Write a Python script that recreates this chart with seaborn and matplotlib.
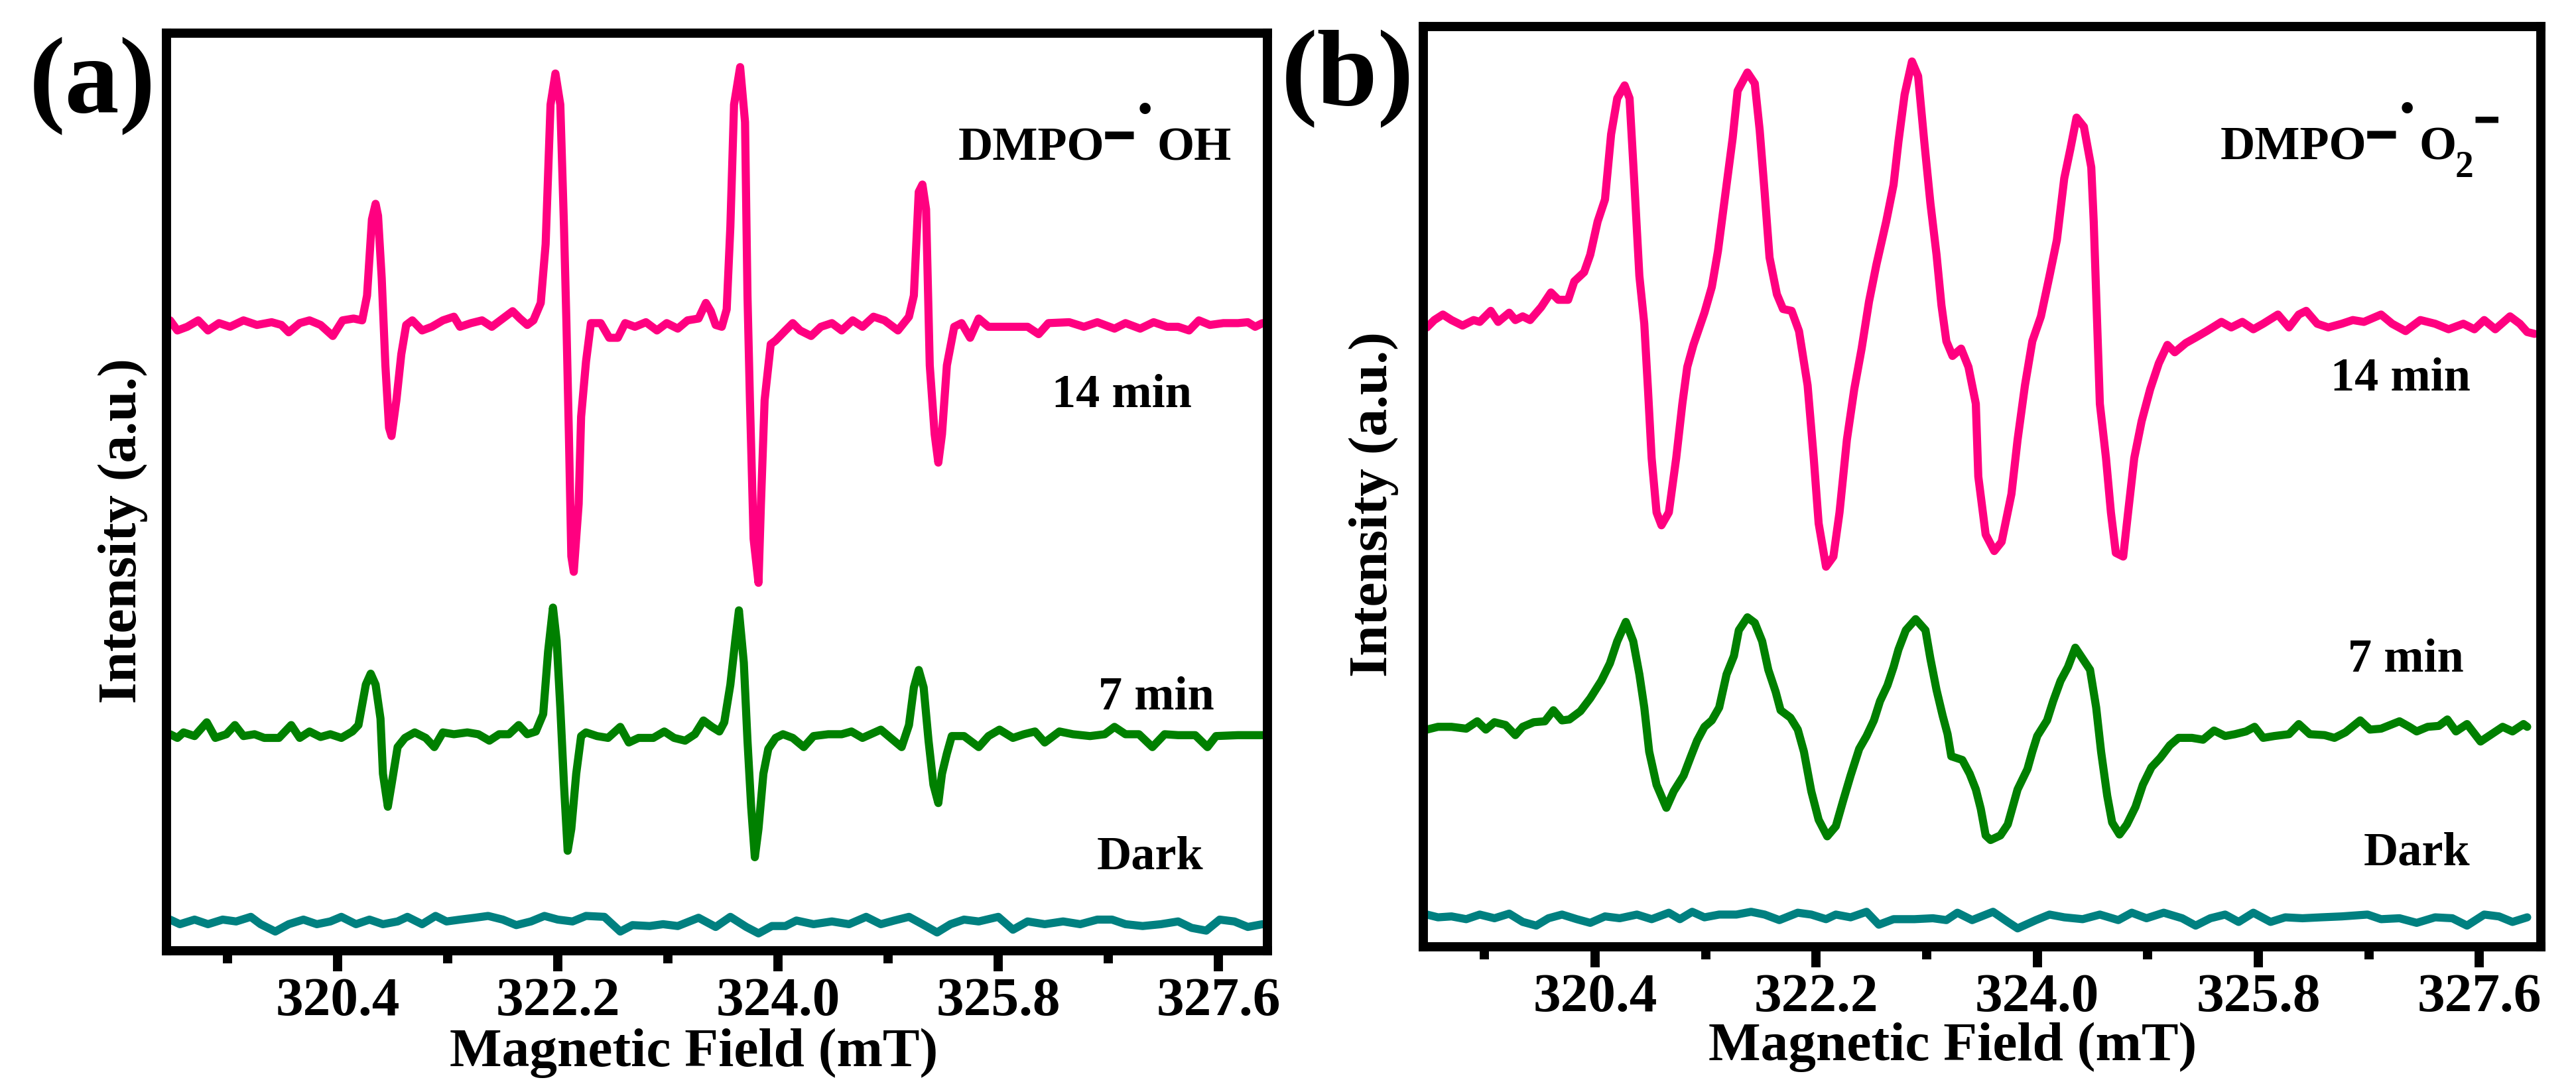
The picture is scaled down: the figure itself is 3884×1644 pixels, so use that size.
import matplotlib
matplotlib.use("Agg")
import matplotlib.pyplot as plt
import numpy as np
import pandas as pd
import seaborn as sns

# ---------------- data ----------------
series_names = ["14 min", "7 min", "Dark"]
series_colors = ["#FF0080", "#008000", "#008080"]

major_ticks = [320.4, 322.2, 324.0, 325.8, 327.6]
major_tick_labels = ["320.4", "322.2", "324.0", "325.8", "327.6"]
minor_ticks = [319.5, 321.3, 323.1, 324.9, 326.7]

# ---- panel (a): DMPO-OH ----
field_a_14 = [319.03, 319.09, 319.17, 319.26, 319.34, 319.43, 319.52, 319.63, 319.74, 319.86,
              319.94, 320.00, 320.09, 320.17, 320.26, 320.36, 320.44, 320.53, 320.60, 320.64,
              320.68, 320.71, 320.73, 320.76, 320.79, 320.82, 320.84, 320.88, 320.92, 320.96,
              321.01, 321.09, 321.17, 321.26, 321.35, 321.40, 321.49, 321.58, 321.66, 321.75,
              321.83, 321.89, 321.95, 322.00, 322.06, 322.10, 322.14, 322.18, 322.22, 322.25,
              322.27, 322.29, 322.31, 322.33, 322.37, 322.39, 322.43, 322.47, 322.55, 322.62,
              322.69, 322.75, 322.83, 322.92, 323.01, 323.09, 323.18, 323.26, 323.35, 323.41,
              323.45, 323.49, 323.54, 323.58, 323.61, 323.64, 323.69, 323.73, 323.75, 323.77,
              323.80, 323.84, 323.86, 323.89, 323.94, 323.98, 324.06, 324.12, 324.18, 324.27,
              324.35, 324.44, 324.52, 324.61, 324.69, 324.78, 324.87, 324.98, 325.07, 325.11,
              325.15, 325.18, 325.21, 325.24, 325.28, 325.31, 325.34, 325.38, 325.44, 325.50,
              325.57, 325.64, 325.72, 325.87, 326.04, 326.13, 326.21, 326.38, 326.50, 326.61,
              326.75, 326.84, 326.96, 327.07, 327.18, 327.27, 327.36, 327.44, 327.53, 327.64,
              327.76, 327.84, 327.90, 327.96]
int_a_14 = [68.7, 67.6, 68.0, 68.7, 67.6, 68.4, 68.0, 68.7, 68.2, 68.5,
            68.2, 67.4, 68.4, 68.7, 68.2, 67.0, 68.7, 68.9, 68.7, 71.4,
            79.7, 81.4, 80.1, 73.3, 63.8, 57.0, 56.1, 60.0, 65.0, 68.2,
            68.7, 67.6, 68.0, 68.7, 69.1, 68.0, 68.4, 68.7, 68.0, 68.9,
            69.7, 68.9, 68.2, 68.7, 70.6, 77.0, 92.2, 95.6, 92.2, 78.9,
            68.4, 56.3, 43.0, 41.3, 48.7, 58.2, 64.2, 68.4, 68.4, 66.8,
            66.8, 68.4, 68.0, 68.5, 67.6, 68.4, 67.8, 68.7, 68.9, 70.6,
            69.7, 68.2, 68.0, 69.9, 78.9, 92.2, 96.3, 90.3, 71.4, 60.0,
            44.9, 40.1, 48.7, 60.0, 66.1, 66.5, 67.6, 68.4, 67.6, 67.0,
            68.0, 68.4, 67.6, 68.7, 68.0, 69.1, 68.7, 67.6, 69.1, 71.4,
            82.7, 83.5, 80.8, 63.8, 56.3, 53.2, 56.3, 63.8, 68.0, 68.4,
            66.8, 68.9, 68.0, 68.0, 68.0, 67.2, 68.4, 68.5, 68.0, 68.5,
            67.8, 68.4, 67.8, 68.5, 68.0, 68.0, 67.6, 68.7, 68.2, 68.4,
            68.4, 68.5, 68.0, 68.4]

field_a_7 = [319.03, 319.09, 319.14, 319.23, 319.33, 319.40, 319.49, 319.56, 319.63, 319.72,
             319.80, 319.92, 320.02, 320.09, 320.17, 320.26, 320.34, 320.43, 320.52, 320.57,
             320.63, 320.67, 320.71, 320.75, 320.77, 320.81, 320.84, 320.89, 320.95, 321.03,
             321.12, 321.19, 321.26, 321.35, 321.46, 321.55, 321.64, 321.72, 321.80, 321.88,
             321.95, 322.02, 322.08, 322.12, 322.16, 322.19, 322.22, 322.25, 322.28, 322.31,
             322.35, 322.39, 322.43, 322.52, 322.61, 322.71, 322.78, 322.86, 322.98, 323.07,
             323.15, 323.24, 323.32, 323.39, 323.46, 323.52, 323.56, 323.61, 323.65, 323.68,
             323.72, 323.75, 323.78, 323.81, 323.84, 323.88, 323.92, 323.98, 324.04, 324.12,
             324.21, 324.29, 324.41, 324.52, 324.60, 324.69, 324.84, 324.92, 325.01, 325.07,
             325.11, 325.15, 325.19, 325.23, 325.27, 325.31, 325.34, 325.38, 325.42, 325.52,
             325.64, 325.72, 325.81, 325.92, 326.01, 326.10, 326.18, 326.30, 326.41, 326.55,
             326.67, 326.75, 326.84, 326.95, 327.06, 327.16, 327.27, 327.41, 327.51, 327.58,
             327.76, 327.96]
int_a_7 = [23.6, 23.2, 23.8, 23.4, 24.9, 23.2, 23.6, 24.6, 23.4, 23.6,
           23.2, 23.2, 24.6, 23.2, 23.9, 23.3, 23.6, 23.2, 23.9, 24.6,
           29.0, 30.2, 29.0, 25.3, 19.3, 15.7, 18.1, 22.2, 23.2, 23.8,
           23.2, 22.2, 23.8, 23.6, 23.8, 23.6, 22.9, 23.6, 23.6, 24.6,
           23.6, 23.9, 25.8, 32.6, 37.4, 33.8, 26.5, 18.1, 10.9, 13.3,
           19.3, 23.4, 23.8, 23.4, 23.2, 24.4, 22.7, 23.2, 23.2, 23.9,
           23.2, 22.9, 23.6, 25.1, 24.4, 23.9, 24.9, 29.0, 33.8, 37.1,
           31.4, 22.9, 15.7, 10.2, 13.3, 19.3, 22.0, 23.2, 23.6, 23.2,
           22.2, 23.4, 23.6, 23.6, 23.9, 23.2, 24.1, 23.2, 22.2, 24.6,
           28.7, 30.6, 28.7, 22.9, 18.1, 16.1, 19.3, 21.5, 23.4, 23.4,
           22.2, 23.4, 24.1, 23.2, 23.6, 23.9, 22.7, 23.9, 23.6, 23.4,
           23.6, 24.4, 23.6, 23.6, 22.2, 23.6, 23.5, 23.5, 22.2, 23.4,
           23.5, 23.5]

field_a_dark = [319.03, 319.11, 319.23, 319.34, 319.46, 319.57, 319.69, 319.77, 319.89, 320.00,
                320.12, 320.23, 320.34, 320.43, 320.55, 320.66, 320.77, 320.89, 320.97, 321.09,
                321.20, 321.29, 321.40, 321.52, 321.63, 321.75, 321.86, 321.98, 322.09, 322.20,
                322.32, 322.43, 322.58, 322.71, 322.81, 322.95, 323.06, 323.18, 323.35, 323.49,
                323.61, 323.74, 323.84, 323.95, 324.06, 324.15, 324.29, 324.44, 324.58, 324.72,
                324.84, 324.95, 325.07, 325.18, 325.30, 325.41, 325.52, 325.64, 325.80, 325.92,
                326.04, 326.18, 326.33, 326.47, 326.61, 326.73, 326.84, 326.98, 327.13, 327.27,
                327.38, 327.50, 327.61, 327.73, 327.84, 327.96]
int_a_dark = [3.4, 2.9, 3.4, 2.9, 3.4, 3.2, 3.7, 2.9, 2.1, 2.9,
              3.4, 2.9, 3.2, 3.7, 2.9, 3.4, 2.9, 3.2, 3.7, 2.9,
              3.8, 3.2, 3.4, 3.6, 3.8, 3.4, 2.8, 3.2, 3.8, 3.4,
              3.2, 3.8, 3.7, 2.1, 2.8, 2.7, 2.9, 2.7, 3.6, 2.6,
              3.7, 2.6, 1.9, 2.7, 2.7, 3.3, 2.9, 3.2, 2.9, 3.7,
              2.9, 3.3, 3.7, 2.9, 2.0, 2.9, 3.4, 3.2, 3.7, 2.3,
              3.2, 2.9, 3.2, 2.9, 3.4, 3.4, 2.9, 2.7, 2.9, 3.2,
              2.5, 2.2, 3.4, 3.2, 2.6, 2.9]

# ---- panel (b): DMPO-O2- ----
field_b_14 = [319.03, 319.09, 319.16, 319.23, 319.32, 319.41, 319.46, 319.55, 319.61, 319.70,
              319.75, 319.81, 319.87, 319.96, 320.04, 320.10, 320.18, 320.23, 320.31, 320.36,
              320.42, 320.48, 320.53, 320.58, 320.64, 320.68, 320.72, 320.76, 320.80, 320.83,
              320.86, 320.90, 320.94, 321.00, 321.06, 321.11, 321.15, 321.20, 321.29, 321.35,
              321.40, 321.47, 321.52, 321.56, 321.64, 321.70, 321.74, 321.78, 321.82, 321.88,
              321.93, 322.00, 322.06, 322.13, 322.18, 322.22, 322.28, 322.34, 322.39, 322.45,
              322.51, 322.57, 322.63, 322.69, 322.77, 322.83, 322.87, 322.92, 322.98, 323.03,
              323.08, 323.13, 323.18, 323.22, 323.26, 323.31, 323.38, 323.44, 323.50, 323.52,
              323.58, 323.65, 323.71, 323.79, 323.84, 323.90, 323.96, 324.03, 324.10, 324.16,
              324.22, 324.27, 324.32, 324.38, 324.44, 324.46, 324.48, 324.51, 324.56, 324.60,
              324.64, 324.70, 324.74, 324.79, 324.85, 324.92, 324.99, 325.06, 325.12, 325.21,
              325.29, 325.38, 325.50, 325.58, 325.67, 325.76, 325.84, 325.96, 326.05, 326.13,
              326.19, 326.28, 326.37, 326.48, 326.57, 326.66, 326.80, 326.89, 327.00, 327.12,
              327.24, 327.35, 327.47, 327.56, 327.64, 327.73, 327.85, 327.93, 327.99, 328.05]
int_b_14 = [67.3, 68.1, 68.7, 68.1, 67.5, 68.1, 67.9, 69.1, 67.9, 68.9,
            68.1, 68.5, 68.1, 69.5, 71.1, 70.3, 70.3, 72.3, 73.3, 75.2,
            78.8, 81.2, 88.3, 92.2, 93.6, 92.2, 82.8, 72.9, 67.7, 60.6,
            53.1, 47.2, 45.8, 47.2, 53.1, 59.0, 63.0, 65.4, 68.9, 71.7,
            75.6, 82.8, 87.9, 93.0, 95.0, 93.8, 88.7, 82.0, 74.9, 70.9,
            69.3, 69.1, 66.9, 61.0, 53.1, 46.0, 41.3, 42.4, 47.2, 55.1,
            60.6, 65.0, 70.1, 74.1, 78.8, 82.8, 87.5, 92.6, 96.2, 94.6,
            87.5, 80.8, 75.2, 69.7, 65.8, 64.2, 65.0, 63.0, 59.0, 51.1,
            44.8, 43.0, 44.0, 49.2, 55.1, 61.0, 65.8, 68.5, 72.9, 76.8,
            83.5, 86.7, 90.1, 89.1, 84.7, 78.8, 70.9, 59.0, 53.1, 47.2,
            42.8, 42.4, 47.2, 53.1, 57.1, 60.6, 63.4, 65.4, 64.6, 65.6,
            66.2, 66.9, 67.9, 67.3, 67.9, 67.1, 67.7, 68.7, 67.3, 68.7,
            69.1, 67.7, 67.3, 67.7, 68.1, 67.9, 68.7, 67.7, 66.9, 68.1,
            67.7, 67.1, 67.7, 67.1, 68.1, 67.1, 68.5, 67.7, 66.8, 66.6]

field_b_7 = [319.03, 319.12, 319.23, 319.35, 319.44, 319.51, 319.58, 319.67, 319.75, 319.81,
             319.90, 319.99, 320.06, 320.13, 320.19, 320.28, 320.36, 320.45, 320.52, 320.58,
             320.65, 320.71, 320.76, 320.80, 320.84, 320.90, 320.98, 321.04, 321.12, 321.18,
             321.23, 321.29, 321.35, 321.41, 321.47, 321.53, 321.57, 321.64, 321.70, 321.76,
             321.81, 321.87, 321.91, 321.99, 322.05, 322.10, 322.16, 322.22, 322.29, 322.36,
             322.42, 322.48, 322.55, 322.61, 322.67, 322.72, 322.78, 322.83, 322.87, 322.93,
             323.01, 323.09, 323.13, 323.18, 323.23, 323.27, 323.30, 323.39, 323.45, 323.50,
             323.54, 323.58, 323.62, 323.70, 323.76, 323.80, 323.84, 323.92, 323.96, 324.00,
             324.08, 324.13, 324.19, 324.25, 324.31, 324.37, 324.43, 324.48, 324.52, 324.57,
             324.61, 324.67, 324.73, 324.80, 324.86, 324.93, 325.00, 325.08, 325.15, 325.26,
             325.35, 325.44, 325.53, 325.61, 325.70, 325.77, 325.84, 325.93, 326.05, 326.13,
             326.22, 326.34, 326.42, 326.51, 326.63, 326.71, 326.80, 326.95, 327.03, 327.09,
             327.18, 327.27, 327.34, 327.41, 327.50, 327.61, 327.70, 327.79, 327.87, 327.96,
             327.99]
int_b_7 = [23.6, 23.9, 23.9, 23.7, 24.5, 23.6, 24.4, 24.1, 23.0, 23.9,
           24.4, 24.5, 25.7, 24.6, 24.7, 25.6, 27.0, 28.9, 30.8, 33.2,
           35.3, 33.2, 29.6, 26.0, 21.2, 17.6, 15.1, 16.9, 18.6, 20.7,
           22.4, 23.9, 24.6, 26.0, 29.6, 31.6, 34.4, 35.8, 35.2, 33.2,
           30.1, 27.7, 25.7, 24.9, 23.6, 21.2, 16.9, 13.8, 12.0, 13.1,
           15.9, 18.6, 21.5, 22.9, 24.6, 26.7, 28.4, 30.4, 32.3, 34.4,
           35.6, 34.4, 31.3, 27.9, 25.1, 23.1, 20.7, 20.3, 18.8, 17.1,
           15.0, 12.1, 11.6, 12.1, 13.3, 15.2, 17.1, 19.3, 21.2, 22.9,
           24.6, 26.7, 28.9, 30.4, 32.5, 31.3, 30.1, 26.0, 21.2, 16.4,
           13.5, 12.2, 13.3, 15.2, 17.6, 19.5, 20.5, 21.9, 22.7, 22.7,
           22.5, 23.5, 22.9, 23.1, 23.4, 23.9, 22.7, 22.9, 23.1, 24.2,
           23.1, 23.0, 22.7, 23.3, 24.6, 23.6, 23.7, 24.5, 23.9, 23.4,
           23.9, 24.0, 24.7, 23.4, 24.2, 22.3, 23.1, 23.9, 23.4, 24.2,
           23.9]

field_b_dark = [319.03, 319.12, 319.23, 319.35, 319.46, 319.58, 319.70, 319.81, 319.92, 320.02,
                320.13, 320.25, 320.36, 320.48, 320.60, 320.74, 320.86, 321.00, 321.09, 321.19,
                321.29, 321.41, 321.55, 321.67, 321.78, 321.90, 322.05, 322.16, 322.28, 322.36,
                322.48, 322.61, 322.71, 322.83, 323.00, 323.15, 323.26, 323.35, 323.47, 323.64,
                323.76, 323.84, 323.99, 324.10, 324.22, 324.37, 324.51, 324.66, 324.77, 324.89,
                325.03, 325.18, 325.29, 325.41, 325.53, 325.64, 325.76, 325.90, 326.02, 326.16,
                326.31, 326.48, 326.69, 326.80, 326.95, 327.09, 327.24, 327.38, 327.50, 327.64,
                327.76, 327.87, 327.99]
int_b_dark = [3.5, 3.2, 3.3, 3.0, 3.5, 3.1, 3.6, 2.7, 2.3, 3.1,
              3.5, 3.0, 2.6, 3.3, 3.1, 3.5, 3.0, 3.7, 3.0, 3.8,
              3.2, 3.5, 3.5, 3.8, 3.5, 2.9, 3.7, 3.5, 3.0, 3.5,
              3.2, 3.8, 2.4, 3.0, 3.0, 3.1, 2.9, 3.7, 2.9, 3.8,
              2.7, 2.0, 2.9, 3.5, 3.2, 3.0, 3.5, 2.9, 3.7, 3.1,
              3.7, 3.1, 2.3, 3.1, 3.5, 2.7, 3.7, 2.7, 3.2, 3.1,
              3.2, 3.3, 3.5, 3.0, 3.1, 2.6, 3.2, 3.1, 2.3, 3.5,
              3.3, 2.7, 3.2]


def long_frame(fields, intensities):
    parts = []
    for name, f, v in zip(series_names, fields, intensities):
        parts.append(pd.DataFrame({"field": f, "intensity": v, "series": name}))
    return pd.concat(parts, ignore_index=True)


df_a = long_frame([field_a_14, field_a_7, field_a_dark], [int_a_14, int_a_7, int_a_dark])
df_b = long_frame([field_b_14, field_b_7, field_b_dark], [int_b_14, int_b_7, int_b_dark])

# ---------------- styling ----------------
sns.set_theme(style="white")
plt.rcParams["font.family"] = ["Liberation Serif", "DejaVu Sans"]
plt.rcParams["font.weight"] = "bold"
plt.rcParams["axes.labelweight"] = "bold"
plt.rcParams["text.color"] = "black"
plt.rcParams["axes.labelcolor"] = "black"
plt.rcParams["xtick.color"] = "black"
plt.rcParams["ytick.color"] = "black"
plt.rcParams["axes.edgecolor"] = "black"

DPI = 100
fig = plt.figure(figsize=(38.84, 16.44), dpi=DPI)
fig.patch.set_facecolor("white")
ax_a = fig.add_axes([0.0646, 0.1277, 0.4274, 0.8419])
ax_b = fig.add_axes([0.5525, 0.1314, 0.4338, 0.8443])

palette = dict(zip(series_names, series_colors))

for ax, df in ((ax_a, df_a), (ax_b, df_b)):
    sns.lineplot(data=df, x="field", y="intensity", hue="series", palette=palette,
                 estimator=None, sort=False, linewidth=8.8, legend=False, ax=ax,
                 solid_joinstyle="round", solid_capstyle="round")


def style_axes(ax, xlim, xlab_coords, ylab_coords):
    ax.set_xlim(*xlim)
    ax.set_ylim(0, 100)
    ax.set_xticks(major_ticks)
    ax.set_xticklabels(major_tick_labels, fontsize=60, fontweight="bold", color="black")
    ax.set_xticks(minor_ticks, minor=True)
    ax.set_yticks([])
    ax.tick_params(axis="x", which="major", direction="out", length=22, width=10,
                   pad=7, bottom=True, color="black", labelcolor="black")
    ax.tick_params(axis="x", which="minor", direction="out", length=14, width=10,
                   bottom=True, color="black")
    ax.grid(False)
    ax.set_facecolor("white")
    for s in ax.spines.values():
        s.set_visible(True)
        s.set_linewidth(10)
        s.set_color("black")
    ax.set_xlabel("Magnetic Field (mT)", fontsize=60, fontweight="bold", color="black")
    ax.xaxis.set_label_coords(*xlab_coords)
    ax.xaxis.label.set_va("baseline")
    ax.set_ylabel("Intensity (a.u.)", fontsize=60, fontweight="bold", color="black")
    ax.yaxis.set_label_coords(*ylab_coords)


style_axes(ax_a, (319.0, 328.0), (0.479, -0.1257), (-0.017, 0.458))
style_axes(ax_b, (319.0, 328.1), (0.4736, -0.123), (-0.022, 0.481))

ANN = 52
for ax, pos in ((ax_a, {"14 min": (326.81, 59.25), "7 min": (327.09, 26.3), "Dark": (327.04, 8.9)}),
                (ax_b, {"14 min": (326.96, 60.45), "7 min": (327.00, 29.9), "Dark": (327.09, 8.86)})):
    for name, (x, y) in pos.items():
        ax.text(x, y, name, fontsize=ANN, fontweight="bold", ha="center", va="baseline", color="black")


def species_label(ax, x, y, tail):
    ax.text(x, y, "DMPO", fontsize=ANN, fontweight="bold", ha="left", va="baseline", color="black")
    ax.annotate("\u2501", xy=(x, y), xytext=(175, 10), textcoords="offset points",
                fontsize=50, family=["DejaVu Sans"], ha="center", va="baseline", color="black")
    ax.annotate("\u2022", xy=(x, y), xytext=(203, 42), textcoords="offset points",
                fontsize=44, fontweight="bold", ha="center", va="baseline", color="black")
    tail(ax, x, y)


def tail_oh(ax, x, y):
    ax.annotate("OH", xy=(x, y), xytext=(216, 0), textcoords="offset points",
                fontsize=ANN, fontweight="bold", ha="left", va="baseline", color="black")


def tail_o2(ax, x, y):
    ax.annotate("O", xy=(x, y), xytext=(216, 0), textcoords="offset points",
                fontsize=ANN, fontweight="bold", ha="left", va="baseline", color="black")
    ax.annotate("2", xy=(x, y), xytext=(255, -19), textcoords="offset points",
                fontsize=40, fontweight="bold", ha="left", va="baseline", color="black")
    ax.annotate("\u2501", xy=(x, y), xytext=(289, 30), textcoords="offset points",
                fontsize=40, family=["DejaVu Sans"], ha="center", va="baseline", color="black")


species_label(ax_a, 325.47, 86.13, tail_oh)
species_label(ax_b, 325.49, 85.52, tail_o2)

fig.text(0.0358, 0.8972, "(a)", fontsize=118, fontweight="bold", ha="center", va="baseline",
         color="black")
fig.text(0.5232, 0.9039, "(b)", fontsize=118, fontweight="bold", ha="center", va="baseline",
         color="black")

fig.savefig("out.png", dpi=DPI, facecolor="white")
